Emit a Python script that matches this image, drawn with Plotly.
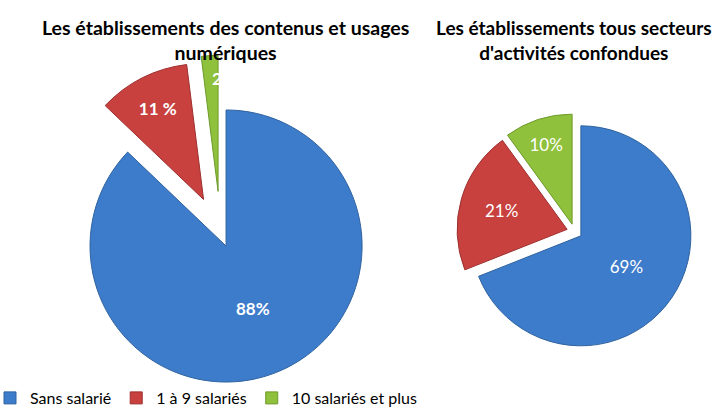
import plotly.graph_objects as go

# ---- data ----
categories = ["Sans salarié", "1 à 9 salariés", "10 salariés et plus"]
values_numerique = [88, 11, 2]          # Les établissements des contenus et usages numériques (%)
values_tous = [69, 21, 10]              # Les établissements tous secteurs d'activités confondues (%)
title_numerique = "Les établissements des contenus et usages<br>numériques"
title_tous = "Les établissements tous secteurs<br>d'activités confondues"

# ---- style ----
colors = ["#3d7bcb", "#c8413f", "#8fc13c"]
edge_colors = ["#2f639f", "#9c302e", "#6e9a2b"]
W, H = 715, 414


def square_domain(cx, cy, half):
    return dict(x=[(cx - half) / W, (cx + half) / W],
                y=[1 - (cy + half) / H, 1 - (cy - half) / H])


fig = go.Figure()

fig.add_trace(go.Pie(
    labels=categories,
    values=values_numerique,
    sort=False,
    direction="clockwise",
    rotation=0,
    pull=[0.1, 0.28, 0.31],
    marker=dict(colors=colors, line=dict(color=edge_colors, width=1)),
    texttemplate=["%{value}%", "%{value} %", ""],
    textposition="inside",
    insidetextorientation="horizontal",
    insidetextfont=dict(family="Lato", size=17, color="white", weight="bold"),
    domain=square_domain(220.7, 233.5, 178.2),
    showlegend=True,
    hoverinfo="label+value",
))

fig.add_trace(go.Pie(
    labels=categories,
    values=values_tous,
    sort=False,
    direction="clockwise",
    rotation=0,
    pull=[0.07, 0.07, 0.07],
    marker=dict(colors=colors, line=dict(color=edge_colors, width=1)),
    texttemplate="%{value}%",
    textposition="inside",
    insidetextorientation="horizontal",
    insidetextfont=dict(family="Lato", size=17, color="white"),
    domain=square_domain(574.5, 231.5, 117.7),
    showlegend=False,
    hoverinfo="label+value",
))

fig.update_layout(
    width=W, height=H,
    margin=dict(l=0, r=0, t=0, b=0, autoexpand=False),
    paper_bgcolor="white",
    plot_bgcolor="white",
    font=dict(family="Lato", color="#000000"),
    legend=dict(
        orientation="h",
        x=423 / W, y=1 - 398 / H,
        xanchor="right", yanchor="middle",
        bgcolor="rgba(0,0,0,0)",
        font=dict(family="Lato", size=16, color="#000000"),
        itemwidth=30,
        traceorder="normal",
    ),
    annotations=[
        dict(text=title_numerique, x=226 / W, y=1 - 40 / H, xref="paper", yref="paper",
             xanchor="center", yanchor="middle", showarrow=False,
             font=dict(family="Lato", size=19.5, color="#000000", weight="bold")),
        dict(text=title_tous, x=574 / W, y=1 - 40 / H, xref="paper", yref="paper",
             xanchor="center", yanchor="middle", showarrow=False,
             font=dict(family="Lato", size=19, color="#000000", weight="bold")),
        # label of the thin "10 salariés et plus" slice (white, as in the original)
        dict(text=f"{values_numerique[2]}%", x=224 / W, y=1 - 79 / H, xref="paper", yref="paper",
             xanchor="center", yanchor="middle", showarrow=False,
             font=dict(family="Lato", size=17, color="white", weight="bold")),
    ],
)

fig.write_html("out.html", config={"displayModeBar": False},
               post_script="document.body.style.margin='0px';")
